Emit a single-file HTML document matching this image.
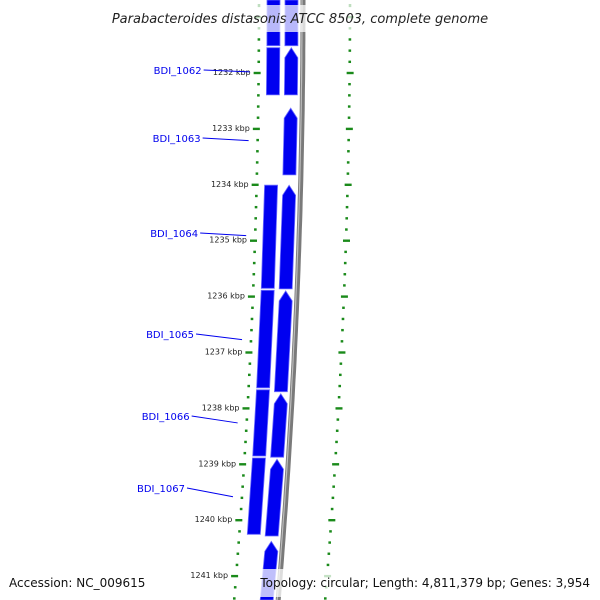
<!DOCTYPE html>
<html><head><meta charset="utf-8"><style>
html,body{margin:0;padding:0;background:#fff;overflow:hidden;width:600px;height:600px;}
svg{display:block;font-family:"DejaVu Sans","Liberation Sans",sans-serif;overflow:hidden;}
</style></head><body>
<svg id="map" width="600" height="600" viewBox="0 0 600 600" xmlns="http://www.w3.org/2000/svg">
<g id="ticks"></g>
<g id="outer"></g>
<g id="backbone"></g>
<g id="genes"></g>
<g id="labels"></g>
<rect x="98" y="5" width="404" height="27" fill="#fff" fill-opacity="0.72"/>
<text x="300" y="23" text-anchor="middle" font-size="13" font-style="italic" fill="#222">Parabacteroides distasonis ATCC 8503, complete genome</text>
<text x="9" y="587" font-size="12" fill="#111">Accession: NC_009615</text>
<rect x="258" y="569" width="334" height="28" fill="#fff" fill-opacity="0.75"/>
<text x="590" y="587" text-anchor="end" font-size="12" fill="#111">Topology: circular; Length: 4,811,379 bp; Genes: 3,954</text>
</svg>
<script>
const tickStarts = [1230.6, 1241.6];
const majorTicks = [1232,1233,1234,1235,1236,1237,1238,1239,1240,1241];
const forwardGenes = [[1230.5,1231.53],[1231.53,1232.41],[1232.61,1233.84],[1233.99,1235.88],[1235.88,1237.72],[1237.72,1238.89],[1238.89,1240.30],[1240.36,1241.6]];
const forwardArrow = [false,true,true,true,true,true,true,true];
const reverseGenes = [[1230.5,1231.53],[1231.53,1232.41],[1233.99,1235.87],[1235.87,1237.65],[1237.65,1238.87],[1238.87,1240.27]];
const geneNames = ["BDI_1062","BDI_1063","BDI_1064","BDI_1065","BDI_1066","BDI_1067"];
const geneLabelPos = [1231.98,1233.21,1234.91,1236.77,1238.26,1239.58];
const labelTextY = [70,138,233,334,416,488];

const NS="http://www.w3.org/2000/svg";
function yAt(k){return 73+(k-1232)*55.9;}
function bx(y){return 303-6.9e-5*y*y;}
function mk(tag,attrs,parent){const e=document.createElementNS(NS,tag);for(const a in attrs)e.setAttribute(a,attrs[a]);parent.appendChild(e);return e;}
const gT=document.getElementById('ticks'),gO=document.getElementById('outer'),gB=document.getElementById('backbone'),gG=document.getElementById('genes'),gL=document.getElementById('labels');

let pts=[],pts2=[];for(let y=0;y<=600;y+=10){pts.push((bx(y)).toFixed(1)+','+y);pts2.push((bx(y)-1).toFixed(1)+','+y);}
let bb=mk('polyline',{points:pts.join(' '),fill:'none',stroke:'#7a7a7a','stroke-width':5},gB);


let bb2=mk('polyline',{points:pts2.join(' '),fill:'none',stroke:'#bdbdbd','stroke-width':1.2},gB);



for(let i=0;;i++){const k=tickStarts[0]+i*0.2;if(k>tickStarts[1])break;
 const y=yAt(k);const major=Math.abs(k-Math.round(k))<0.01;
 const xi=bx(y)-44, xo=bx(y)+47;
 let t=mk('rect',{x:major?xi-5:xi-1.3,y:y-1.2,width:major?7:2.6,height:2.4,fill:'#1a8a1a'},gT);
 
 
 let o=mk('rect',{x:major?xo-3:xo-1.3,y:y-1.2,width:major?7:2.6,height:2.4,fill:'#1a8a1a'},gO);
 
 
}
majorTicks.forEach(k=>{const y=yAt(k);
 let t=mk('text',{x:bx(y)-52,y:y+2,'font-size':8,'text-anchor':'end',fill:'#222'},gT);t.textContent=k+' kbp';
 
 
});

function lane(k0,k1,o0,o1,arrow){
 const y0=Math.max(yAt(k0)+1,0),y1=Math.min(yAt(k1)-1,600);const tip=10;
 const a=bx(y0),b=bx(y1);
 if(arrow){return [[a+o0,y0+tip],[(a+(o0+o1)/2),y0],[a+o1,y0+tip],[b+o1,y1],[b+o0,y1]];}
 return [[a+o0,y0],[a+o1,y0],[b+o1,y1],[b+o0,y1]];
}
forwardGenes.forEach((g,i)=>{
 const p=lane(g[0],g[1],-18,-5,forwardArrow[i]);
 let e=mk('polygon',{points:p.map(q=>q[0].toFixed(1)+','+q[1].toFixed(1)).join(' '),fill:'#0000f0',stroke:'#6a6aff','stroke-width':0.8},gG);
 
 
});
reverseGenes.forEach(g=>{
 const p=lane(g[0],g[1],-36,-23,false);
 let e=mk('polygon',{points:p.map(q=>q[0].toFixed(1)+','+q[1].toFixed(1)).join(' '),fill:'#0000f0',stroke:'#6a6aff','stroke-width':0.8},gG);
 
 
});
geneNames.forEach((n,i)=>{
 const y=yAt(geneLabelPos[i]);const ex=bx(y)-53;const ty=labelTextY[i];
 let t=mk('text',{x:ex-48,y:ty+4,'font-size':10,fill:'#0000ee','text-anchor':'end'},gL);t.textContent=n;
 
 
 let l=mk('line',{x1:ex-46,y1:ty,x2:ex,y2:y,stroke:'#0000ee','stroke-width':1},gL);
 
 
});
</script>
</body></html>
